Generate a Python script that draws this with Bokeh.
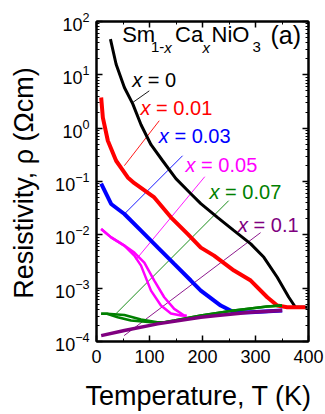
import numpy as np
from bokeh.plotting import figure
from bokeh.models import (Range1d, LogAxis, LinearAxis, Label, LogTicker,
                          SingleIntervalTicker, CustomJSTickFormatter)
from bokeh.embed import file_html
from bokeh.resources import INLINE

# ---------------- data ----------------
T_x0 = [26.3, 37.0, 52.6, 68.4, 84.0, 102.8, 124.8, 149.8, 178.0, 196.8,
        228.2, 259.4, 291.0, 315.8, 341.0, 362.8, 375.4, 397.4]
rho_x0 = [46.7, 15.8, 5.78, 2.86, 1.16, 0.489, 0.245, 0.113, 0.059, 0.0384,
          0.0213, 0.0120, 0.00676, 0.00379, 0.0016, 6.76e-4, 4.39e-4, 4.39e-4]

T_x001 = [8.8, 12.0, 21.4, 37.0, 59.0, 71.4, 109.0, 140.4, 171.8, 196.8,
          221.8, 259.4, 291.0, 322.2, 341.0, 359.8, 394.0]
rho_x001 = [3.76, 1.58, 0.581, 0.245, 0.119, 0.093, 0.0503, 0.0213, 0.0104,
            0.00575, 0.00407, 0.00214, 0.00139, 6.76e-4, 4.72e-4, 4.39e-4, 4.39e-4]

T_x003 = [8.8, 27.6, 52.6, 84.0, 115.4, 146.6, 178.0, 196.8, 209.4, 234.4,
          259.4, 291.0, 350.4]
rho_x003 = [0.091, 0.0379, 0.0246, 0.0120, 0.00583, 0.00285, 0.00139,
            9.02e-4, 7.26e-4, 4.72e-4, 3.54e-4, 3.54e-4, 3.81e-4]

T_x005_a = [8.8, 27.6, 52.6, 71.4, 84.0, 102.8, 121.6, 140.4, 159.2, 170.0]
rho_x005_a = [0.0129, 0.00897, 0.00628, 0.00407, 0.00265, 9.0e-4, 4.72e-4,
              3.34e-4, 3.07e-4, 3.05e-4]
T_x005_b = [8.8, 27.6, 52.6, 71.4, 90.2, 109.0, 127.8, 146.6, 165.4, 170.0]
rho_x005_b = [0.0129, 0.00897, 0.00628, 0.00465, 0.00302, 0.00139, 6.76e-4,
              4.09e-4, 3.07e-4, 3.05e-4]

T_x007_a = [8.8, 20.0, 52.6, 84.0, 115.0, 128.0, 147.0, 197.0, 259.0, 322.0, 350.0]
rho_x007_a = [3.31e-4, 3.32e-4, 3.13e-4, 2.58e-4, 2.30e-4, 2.30e-4, 2.47e-4,
              3.07e-4, 3.80e-4, 4.52e-4, 4.72e-4]
T_x007_b = [8.8, 20.0, 40.0, 65.0, 103.0, 128.0, 147.0, 197.0, 259.0, 322.0, 350.0]
rho_x007_b = [3.31e-4, 3.32e-4, 2.85e-4, 2.47e-4, 2.30e-4, 2.30e-4, 2.47e-4,
              3.07e-4, 3.80e-4, 4.52e-4, 4.72e-4]

T_x01 = [8.8, 52.6, 115.4, 196.8, 228.2, 291.0, 350.4]
rho_x01 = [1.29e-4, 1.61e-4, 2.14e-4, 2.85e-4, 3.07e-4, 3.54e-4, 3.81e-4]

# leader lines: label end -> curve
lead_T0 = [99.6, 118.4, 162.4, 204.3, 249.4, 309.6]
lead_rho0 = [5.01, 1.38, 0.304, 0.123, 0.0437, 0.011]
lead_T1 = [68.4, 52.6, 52.6, 74.6, 37.0, 52.1]
lead_rho1 = [3.03, 0.198, 0.0246, 0.00344, 3.34e-4, 1.29e-4]

series_names = ["0", "0.01", "0.03", "0.05", "0.07", "0.1"]
colors = ["#000000", "#ff0000", "#0000ff", "#ff00ff", "#008000", "#800080"]

x_title = "Temperature, T (K)"
y_title = "Resistivity, \u03c1 (\u03a9cm)"

# ---------------- figure ----------------
W, H = 325, 414
L, R, TOP, BOT = 96, 17, 21, 73
FONT = "Liberation Sans"
fw, fh = W - L - R, H - TOP - BOT
BASE_FIX = 0.36  # empirical baseline correction, in em

p = figure(width=W, height=H, y_axis_type="log",
           x_range=Range1d(0, 400), y_range=Range1d(1e-4, 1e2),
           output_backend="svg", toolbar_location=None,
           min_border_left=L, min_border_right=R,
           min_border_top=TOP, min_border_bottom=BOT)
p.background_fill_color = "white"
p.border_fill_color = "white"
p.outline_line_color = "black"
p.outline_line_width = 2
p.grid.visible = False


def style_axis(ax, labels=True):
    ax.axis_line_width = 2
    ax.axis_line_color = "black"
    ax.major_tick_in = 6
    ax.major_tick_out = 0
    ax.minor_tick_in = 3
    ax.minor_tick_out = 0
    ax.major_tick_line_width = 1.5
    ax.minor_tick_line_width = 1
    ax.major_label_text_font = FONT
    ax.major_label_text_color = "black"
    ax.major_label_text_font_size = "18px"
    if not labels:
        ax.formatter = CustomJSTickFormatter(code="return ''")
        ax.major_label_standoff = 0


p.xaxis.ticker = SingleIntervalTicker(interval=100, num_minor_ticks=2)
p.yaxis.ticker = LogTicker(num_minor_ticks=10)
style_axis(p.xaxis[0])
style_axis(p.yaxis[0])
p.xaxis.major_label_standoff = 8
p.yaxis.major_label_standoff = 7

top_ax = LinearAxis(ticker=SingleIntervalTicker(interval=100, num_minor_ticks=2))
style_axis(top_ax, labels=False)
p.add_layout(top_ax, "above")
right_ax = LogAxis(ticker=LogTicker(num_minor_ticks=10))
style_axis(right_ax, labels=False)
p.add_layout(right_ax, "right")

# leader lines
p.segment(x0=lead_T0, y0=lead_rho0, x1=lead_T1, y1=lead_rho1,
          line_color=colors, line_width=0.9)

# curves
p.line(T_x0, rho_x0, line_color=colors[0], line_width=3)
p.line(T_x001, rho_x001, line_color=colors[1], line_width=4)
p.line(T_x003, rho_x003, line_color=colors[2], line_width=4)
p.line(T_x005_a, rho_x005_a, line_color=colors[3], line_width=2.5)
p.line(T_x005_b, rho_x005_b, line_color=colors[3], line_width=2.5)
p.line(T_x007_a, rho_x007_a, line_color=colors[4], line_width=2.5)
p.line(T_x007_b, rho_x007_b, line_color=colors[4], line_width=2.5)
p.line(T_x01, rho_x01, line_color=colors[5], line_width=3.5)


def px2T(px):
    return (px - L) / fw * 400.0


def py2rho(py):
    return 10 ** (2 - (py - TOP) / fh * 6.0)


def add_text(text, px, py, size, color="black", italic=False, angle=0.0,
             place="center"):
    # px, py: canvas pixel position of the text's left end on its baseline
    if angle == 0.0:
        py = py - BASE_FIX * size
    else:
        px = px - BASE_FIX * size
    lab = Label(x=px2T(px), y=py2rho(py), x_units="data", y_units="data",
                text=text, text_font=FONT, text_font_size=f"{size}px",
                text_color=color,
                text_font_style="italic" if italic else "normal",
                text_baseline="alphabetic", text_align="left",
                angle=angle)
    p.add_layout(lab, place)


# series labels:  "x" italic, then "= value"
label_pos = [(131.7, 87), (140, 115), (158.3, 143), (185, 172), (209, 199), (237.5, 232)]
for name, col, (lx, ly) in zip(series_names, colors, label_pos):
    add_text("x", lx, ly, 20, col, italic=True)
    add_text("= " + name, lx + 15.6, ly, 20, col)

# compound title Sm1-xCaxNiO3
add_text("Sm", 121.7, 42, 22)
add_text("1-", 150.5, 52, 15)
add_text("x", 163.8, 52, 15, italic=True)
add_text("Ca", 174.5, 42, 22)
add_text("x", 202, 52, 15, italic=True)
add_text("NiO", 211, 42, 22)
add_text("3", 252, 52, 15)
add_text("(a)", 270, 43, 25)

# axis titles (outside the frame -> side panels, so they are not clipped)
add_text(x_title, 85, 405, 27, place="below")
add_text(y_title, 33.3, 298.3, 27, angle=np.pi / 2, place="left")

open("out.html", "w").write(file_html(p, INLINE))
